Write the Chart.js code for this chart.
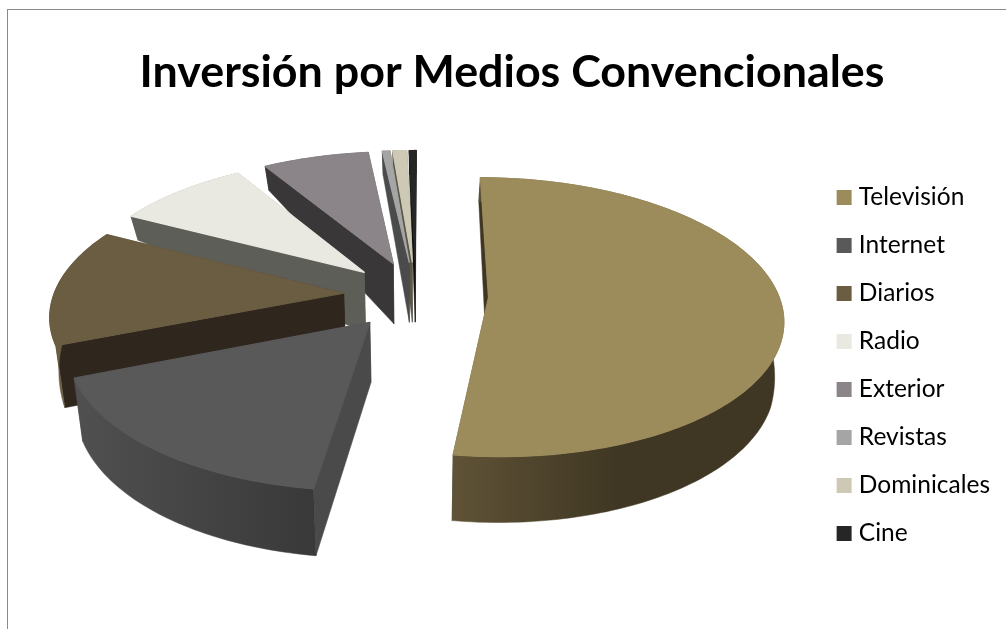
<!DOCTYPE html>
<html>
<head>
<meta charset="utf-8">
<script src="https://cdn.jsdelivr.net/npm/chart.js@4/dist/chart.umd.min.js"></script>
<style>
  html, body { margin: 0; width: 1006px; height: 629px; overflow: hidden; background: #fff; }
  #frame { position: absolute; left: 7px; top: 9px; border-left: 1px solid #8a8a8a; border-top: 1px solid #8a8a8a; }
  canvas { display: block; }
</style>
</head>
<body>
<div id="frame"><canvas id="chart" width="1008" height="725"></canvas></div>
<script>
// Share of advertising spend per medium, in percent.
const categories = ['Televisión', 'Internet', 'Diarios', 'Radio', 'Exterior', 'Revistas', 'Dominicales', 'Cine'];
const shares = [52.2, 16.8, 13.6, 8.7, 6.9, 0.5, 0.9, 0.45];

// Palette: legend and top faces, then the shaded side walls.
const topColors  = ['#9C8C5C', '#595959', '#6A5D42', '#E9E8E1', '#8B8589', '#A5A5A5', '#CDC9B4', '#262626'];
const wallColors = ['#3F3723', '#4A4A4A', '#2F261E', '#5D5E58', '#3A3739', '#4B4B4B', '#5A5748', '#111111'];
const rimLight   = ['#5F5236', '#505050', '#6A5D42', '#5D5E58', '#3A3739', '#4B4B4B', '#5A5748', '#111111'];
const rimDark    = ['#3F3723', '#393939', '#6A5D42', '#5D5E58', '#3A3739', '#4B4B4B', '#5A5748', '#111111'];
const rimSpan    = [0.5, 1, 1, 1, 1, 1, 1, 1];

// Camera model for the tilted, exploded pie (canvas pixels).
const view = {
  x0: 408, y0: 285,      // projected pie centre
  radius: 290,           // horizontal radius
  tilt: 136,             // vertical radius
  perspective: 0.141,    // how fast near parts grow
  explode: 0.25,         // slice separation, in radii
  apexDepth: 60,         // wall height at the slice tip
  inward: 0.025          // wall bottoms lean toward the centre
};
// Wall height on the rim, by the screen height of the rim point.
const rimDepthStops = [[140, 24], [210, 24], [335, 62], [480, 67]];

function project(u, v) {
  const s = 1 / (1 - view.perspective * v);
  return [view.x0 + view.radius * u * s, view.y0 + view.tilt * v * s];
}
function rimDepth(y) {
  const st = rimDepthStops;
  if (y <= st[0][0]) return st[0][1];
  for (let i = 1; i < st.length; i++) {
    if (y <= st[i][0]) {
      const t = (y - st[i - 1][0]) / (st[i][0] - st[i - 1][0]);
      return st[i - 1][1] + t * (st[i][1] - st[i - 1][1]);
    }
  }
  return st[st.length - 1][1];
}
function lower(p, depth) {
  return [p[0] + (view.x0 - p[0]) * view.inward, p[1] + depth];
}
// A hairline in the fill's own colour closes the seams between neighbouring faces.
function fillPath(ctx, pts, style, seal) {
  ctx.beginPath();
  pts.forEach((p, i) => i ? ctx.lineTo(p[0], p[1]) : ctx.moveTo(p[0], p[1]));
  ctx.closePath();
  ctx.fillStyle = style;
  ctx.fill();
  ctx.strokeStyle = style;
  ctx.lineWidth = seal;
  ctx.lineJoin = 'round';
  ctx.stroke();
}

// Replaces the flat arc drawing: takes each arc's angles from the library's
// layout and renders it as an extruded wedge, farthest slice first.
const extrudedPie = {
  id: 'extrudedPie',
  beforeDatasetDraw(chart, args) {
    const ctx = chart.ctx;
    const wedges = args.meta.data.map((arc, i) => {
      const { startAngle, endAngle } = arc.getProps(['startAngle', 'endAngle'], true);
      const mid = (startAngle + endAngle) / 2;
      const ou = Math.cos(mid) * view.explode, ov = Math.sin(mid) * view.explode;
      const rim = [];
      const steps = Math.max(2, Math.ceil((endAngle - startAngle) / 0.02));
      for (let k = 0; k <= steps; k++) {
        const a = startAngle + (endAngle - startAngle) * k / steps;
        rim.push(project(ou + Math.cos(a), ov + Math.sin(a)));
      }
      return { i, rim, apex: project(ou, ov) };
    }).sort((a, b) => a.apex[1] - b.apex[1]);

    ctx.save();
    wedges.forEach(({ i, rim, apex }) => {
      const bottomRim = rim.map(p => lower(p, rimDepth(p[1])));
      const bottomApex = lower(apex, view.apexDepth);
      const first = rim[0], last = rim[rim.length - 1];

      // Cut faces along both radii.
      fillPath(ctx, [apex, first, bottomRim[0], bottomApex], wallColors[i], 0.5);
      fillPath(ctx, [apex, last, bottomRim[bottomRim.length - 1], bottomApex], wallColors[i], 0.5);

      // Curved outer wall, shaded left to right.
      const xs = rim.map(p => p[0]);
      const minX = Math.min(...xs), maxX = Math.max(...xs);
      const grad = ctx.createLinearGradient(minX, 0, minX + (maxX - minX) * rimSpan[i] + 1, 0);
      grad.addColorStop(0, rimLight[i]);
      grad.addColorStop(1, rimDark[i]);
      fillPath(ctx, rim.concat(bottomRim.slice().reverse()), grad, 0.5);

      // Top face.
      fillPath(ctx, [apex].concat(rim), topColors[i], 1.2);
    });
    ctx.restore();
    return false;
  }
};

new Chart(document.getElementById('chart'), {
  type: 'pie',
  data: {
    labels: categories,
    datasets: [{ data: shares, backgroundColor: topColors, borderWidth: 0 }]
  },
  plugins: [extrudedPie],
  options: {
    responsive: false,
    animation: false,
    rotation: 0.2,
    layout: { padding: { top: 36, right: 16, bottom: 50, left: 16 } },
    plugins: {
      tooltip: { enabled: false },
      title: {
        display: true,
        text: 'Inversión por Medios Convencionales',
        color: '#000',
        font: { family: 'Lato', size: 44.8, weight: 'bold' },
        padding: { top: 0, bottom: 20 }
      },
      legend: {
        position: 'right',
        labels: {
          color: '#000',
          font: { family: 'Lato', size: 24.5 },
          boxWidth: 5,
          boxHeight: 5,
          padding: 23.5,
          generateLabels(chart) {
            return categories.map((text, i) => ({
              text,
              index: i,
              fillStyle: topColors[i],
              strokeStyle: topColors[i],
              lineWidth: 10,
              lineJoin: 'miter',
              hidden: false
            }));
          }
        }
      }
    }
  }
});
</script>
</body>
</html>
